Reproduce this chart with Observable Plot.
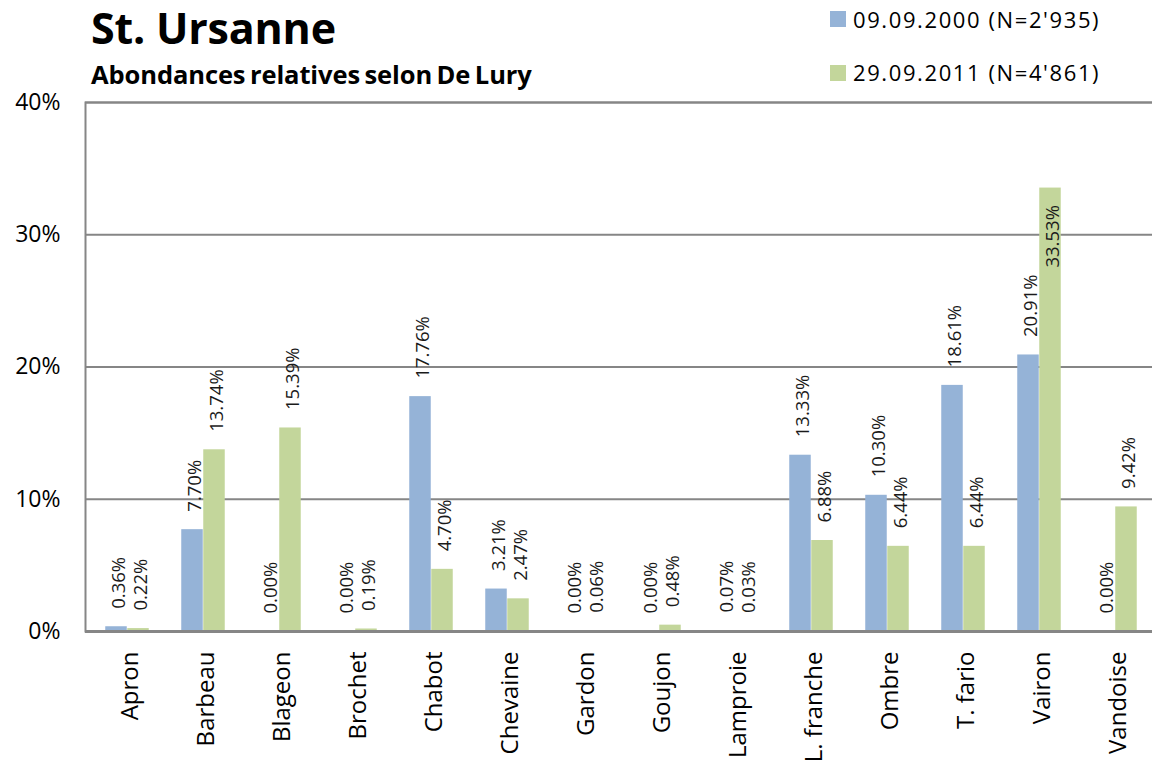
<!DOCTYPE html>
<html>
<head>
<meta charset="utf-8">
<script src="https://cdn.jsdelivr.net/npm/d3@7"></script>
<script src="https://cdn.jsdelivr.net/npm/@observablehq/plot@0.6"></script>
<style>
  html, body { margin: 0; padding: 0; background: #fff; overflow: hidden; }
  #head { position: relative; width: 1152px; height: 78px; }
  #head div { position: absolute; white-space: nowrap; }
  .title { left: 91px; top: 6px; font: 700 43px/1 "Open Sans", sans-serif; color: #000; letter-spacing: -0.2px; }
  .sub { left: 91px; top: 62px; font: 700 25.5px/1 "Open Sans", sans-serif; color: #000; word-spacing: -2px; letter-spacing: -0.1px; }
  .leg { font: 400 22px/1 "Open Sans", sans-serif; color: #000; letter-spacing: 1.6px; }
  .sw { width: 16px; height: 16px; }
</style>
</head>
<body>
<div id="head">
  <div class="title">St. Ursanne</div>
  <div class="sub">Abondances relatives selon De Lury</div>
</div>
<div id="chart"></div>
<script>
const categories = ["Apron","Barbeau","Blageon","Brochet","Chabot","Chevaine","Gardon","Goujon","Lamproie","L. franche","Ombre","T. fario","Vairon","Vandoise"];
const series = ["09.09.2000 (N=2'935)", "29.09.2011 (N=4'861)"];
const values2000 = [0.36, 7.70, 0.00, 0.00, 17.76, 3.21, 0.00, 0.00, 0.07, 13.33, 10.30, 18.61, 20.91, 0.00];
const values2011 = [0.22, 13.74, 15.39, 0.19, 4.70, 2.47, 0.06, 0.48, 0.03, 6.88, 6.44, 6.44, 33.53, 9.42];
const yTicks = [0, 10, 20, 30, 40];
const colors = ["#95B3D7", "#C3D69B"];

// legend (HTML, above the SVG)
const head = document.getElementById("head");
series.forEach((s, i) => {
  const sw = document.createElement("div");
  sw.className = "sw";
  sw.style.left = "830px";
  sw.style.top = (11 + i * 54) + "px";
  sw.style.background = colors[i];
  head.appendChild(sw);
  const t = document.createElement("div");
  t.className = "leg";
  t.style.left = "853px";
  t.style.top = (8 + i * 53) + "px";
  t.textContent = s;
  head.appendChild(t);
});

const rows2000 = categories.map((c, i) => ({cat: c, v: values2000[i]}));
const rows2011 = categories.map((c, i) => ({cat: c, v: values2011[i]}));
const fmt = d => d.v.toFixed(2) + "%";
const inside = d => d.v > 30;

const W = 1152, mL = 85, mR = -4;
const bw = (W - mL - mR) / categories.length;
const barW = 22;
const outer = (bw - 2 * barW) / 2;

const labelStyle = {rotate: -90, fontSize: 18.5, fill: "#1a1a1a", text: fmt, fontFamily: "'Open Sans', sans-serif"};

const chart = Plot.plot({
  width: W,
  height: 686,
  marginTop: 24,
  marginBottom: 133,
  marginLeft: mL,
  marginRight: mR,
  style: {fontFamily: "'Open Sans', sans-serif", background: "#fff", color: "#000", overflow: "visible"},
  x: {domain: categories, padding: 0, label: null},
  y: {domain: [0, 40], label: null},
  marks: [
    Plot.ruleY(yTicks.filter(d => d > 0), {stroke: "#868686", strokeWidth: 2}),
    Plot.barY(rows2000, {x: "cat", y: "v", fill: colors[0], insetLeft: outer, insetRight: outer + barW}),
    Plot.barY(rows2011, {x: "cat", y: "v", fill: colors[1], insetLeft: outer + barW, insetRight: outer}),
    Plot.frame({stroke: "#868686", strokeWidth: 2}),
    Plot.ruleY([0], {stroke: "#868686", strokeWidth: 3}),
    Plot.axisY(yTicks, {tickSize: 0, tickPadding: 25, fontSize: 23, tickFormat: d => d + "%", label: null}),
    Plot.axisX({tickSize: 0, tickRotate: -90, tickPadding: 20, fontSize: 24, dx: 3, label: null}),
    Plot.text(rows2000.filter(d => !inside(d)), {x: "cat", y: "v", ...labelStyle, textAnchor: "start", dx: -barW / 2 + 2.5, dy: -18}),
    Plot.text(rows2011.filter(d => !inside(d)), {x: "cat", y: "v", ...labelStyle, textAnchor: "start", dx: barW / 2 + 2.5, dy: -18}),
    Plot.text(rows2000.filter(inside), {x: "cat", y: "v", ...labelStyle, textAnchor: "end", dx: -barW / 2 + 2.5, dy: 17}),
    Plot.text(rows2011.filter(inside), {x: "cat", y: "v", ...labelStyle, textAnchor: "end", dx: barW / 2 + 2.5, dy: 17})
  ]
});
document.getElementById("chart").appendChild(chart);
</script>
</body>
</html>
